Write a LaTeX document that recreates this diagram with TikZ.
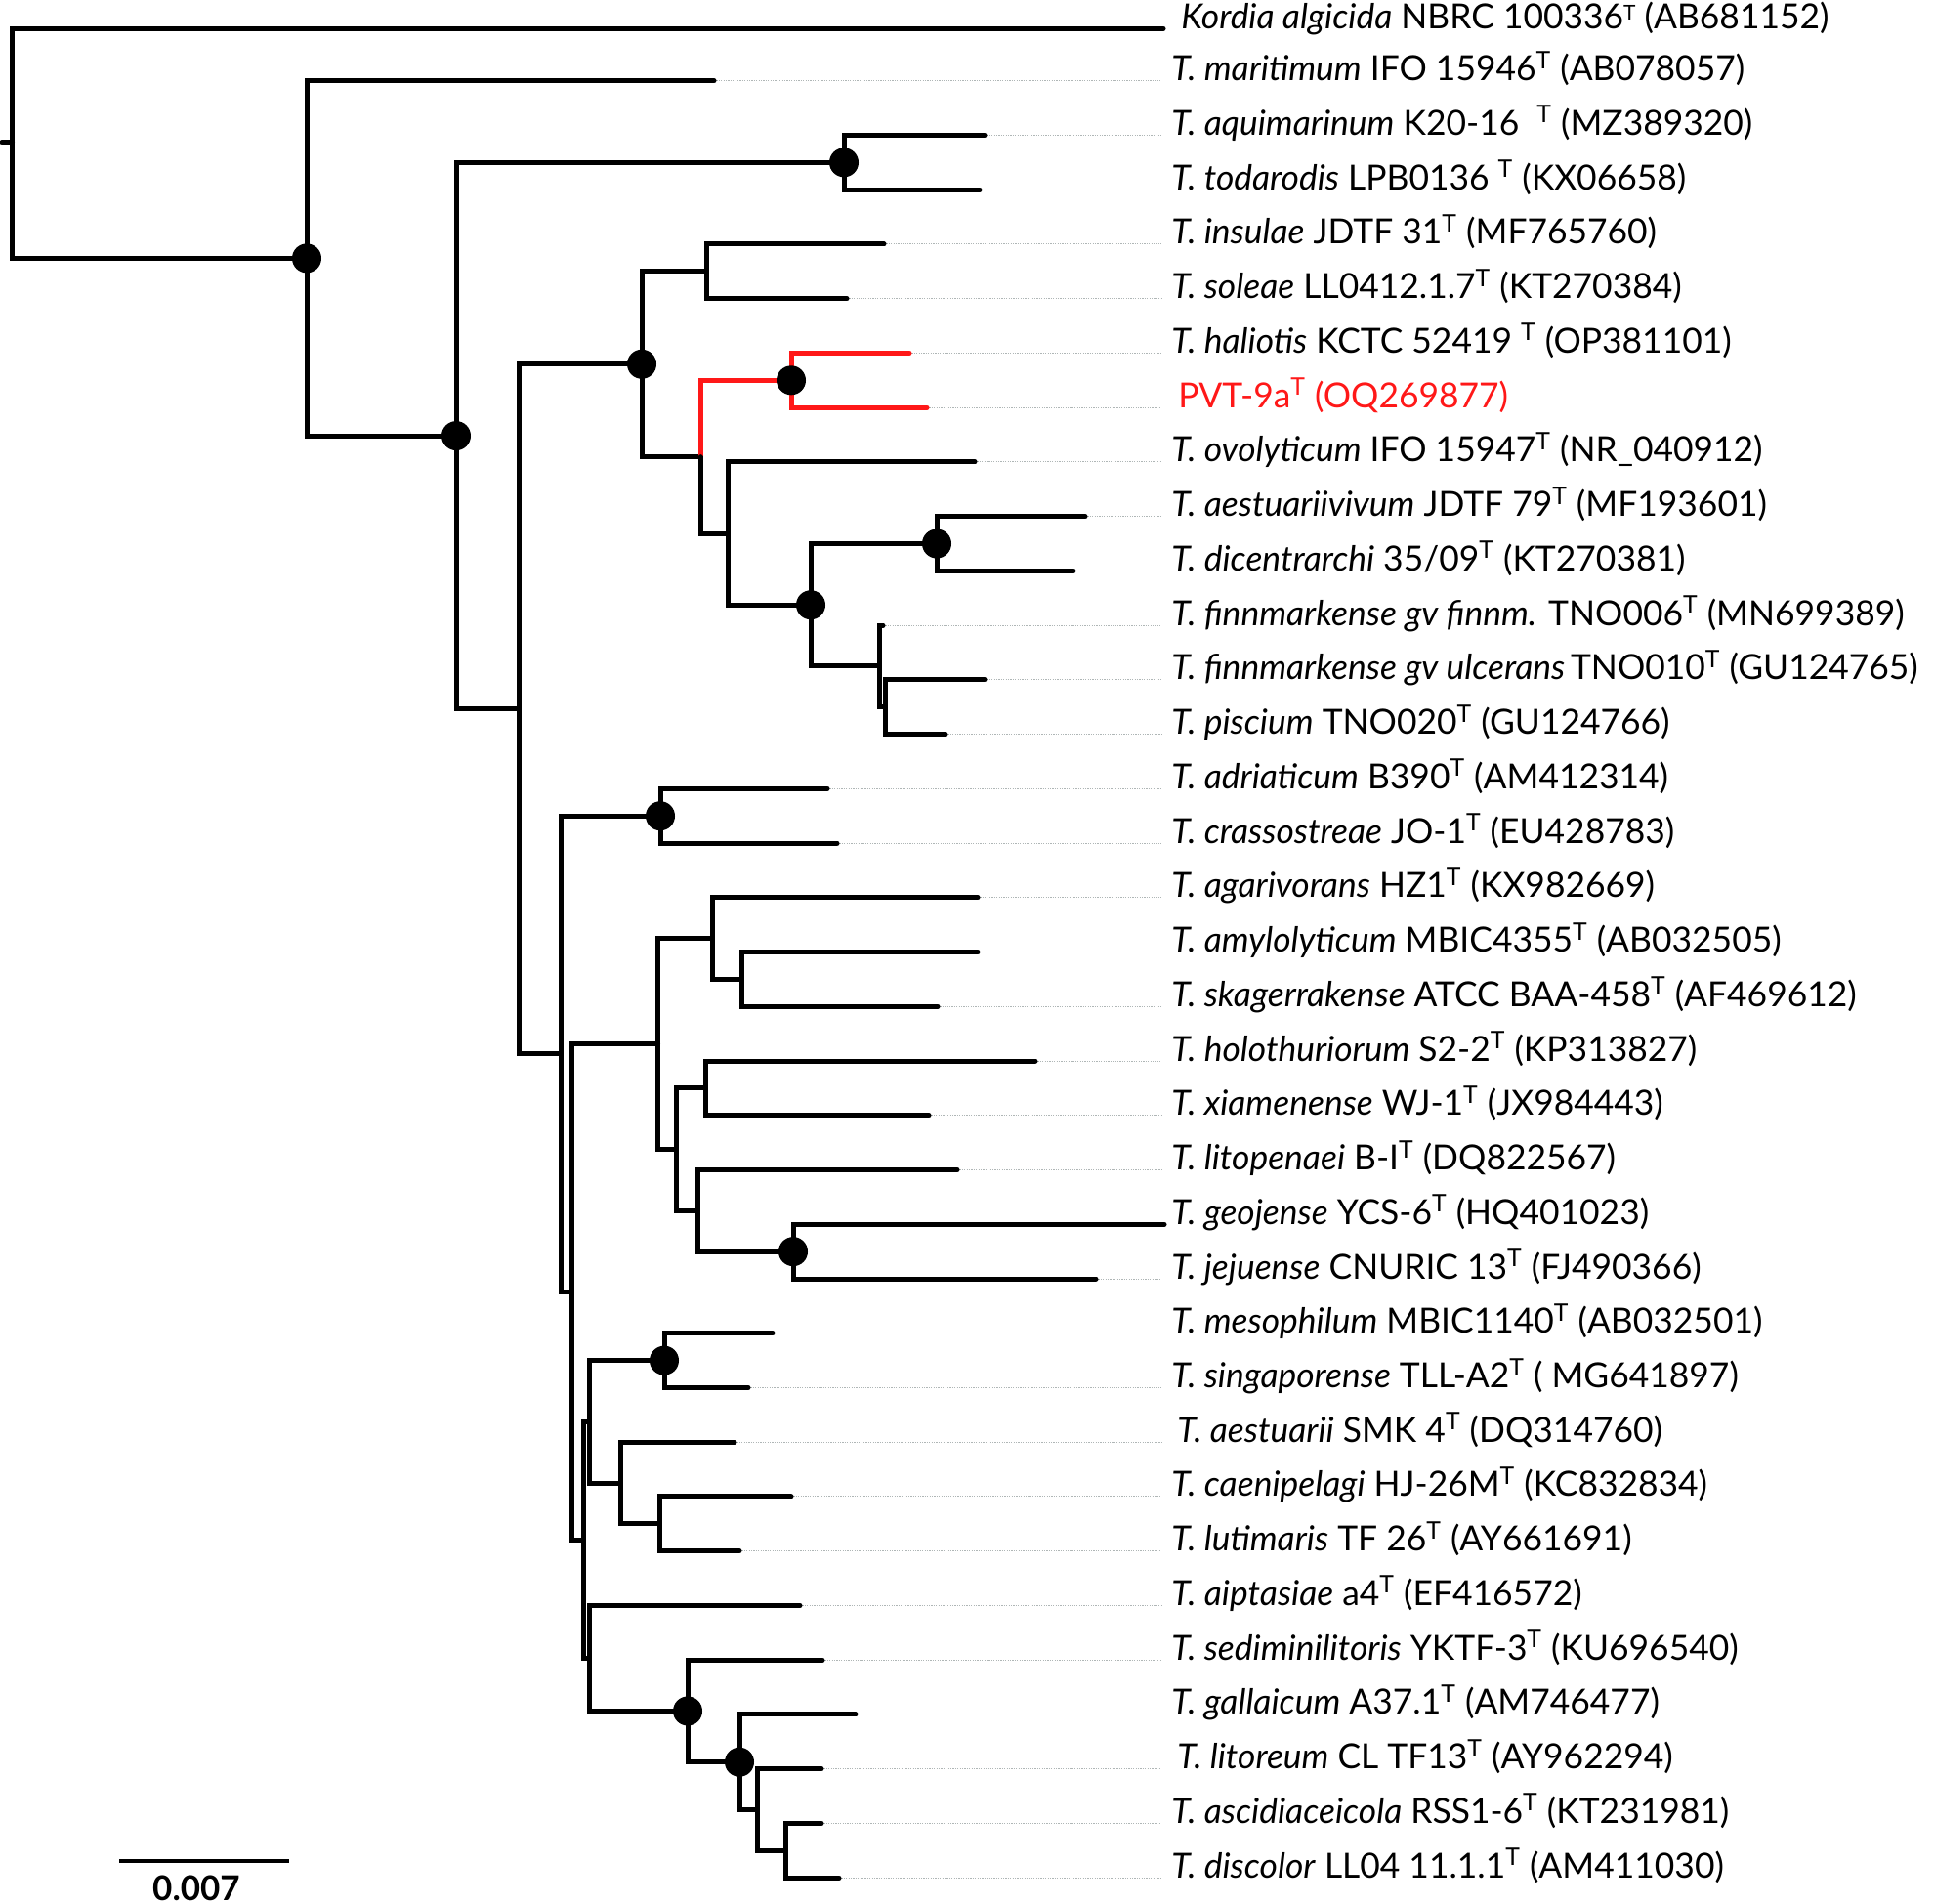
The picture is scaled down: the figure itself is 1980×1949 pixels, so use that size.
\documentclass[tikz,border=0pt]{standalone}
\usepackage{fontspec}
\setmainfont{Lato}
\usetikzlibrary{calc}
\definecolor{treered}{RGB}{255,24,24}
\definecolor{leadgray}{RGB}{175,182,182}
\newcommand\supT{\textsuperscript{T}}
\newcommand\lowsupT{\raisebox{0.25em}{\fontsize{10.5bp}{10.5bp}\selectfont T}}
\newcommand\labfont{\fontsize{17.7bp}{20bp}\selectfont}
\newcommand\leaf[4]{%
  \coordinate (#1) at (#2,{27+55.74*#3});
  \node[lab] (#1L) at (1189,{27+55.74*#3}) {#4};
  \draw[leader] (#1) -- (#1L.base west);}
\begin{document}
\begin{tikzpicture}[x=0.5bp,y=-0.5bp,
  br/.style={line width=2.5bp, line cap=round, line join=miter},
  redbr/.style={br, draw=treered},
  leader/.style={draw=leadgray, line width=0.5bp, dash pattern=on 0.6bp off 0.6bp},
  lab/.style={anchor=base west, inner xsep=5bp, inner ysep=0pt, font=\labfont},
  dot/.style={fill=black}]
\useasboundingbox (0,0) rectangle (1980,1949);
% leaves
\leaf{t0}{1191}{0.04}{\hspace{5bp}\textit{Kordia algicida} NBRC 100336\lowsupT{} (AB681152)}
\leaf{t1}{731}{1}{\textit{T. maritimum} IFO 15946\supT{} (AB078057)}
\leaf{t2}{1008}{2}{\textit{T. aquimarinum} K20-16~~\supT{} (MZ389320)}
\leaf{t3}{1003}{3}{\textit{T. todarodis} LPB0136 \supT{} (KX06658)}
\leaf{t4}{905}{4}{\textit{T. insulae} JDTF 31\supT{} (MF765760)}
\leaf{t5}{867}{5}{\textit{T. soleae} LL0412.1.7\supT{} (KT270384)}
\leaf{t6}{931}{6}{\textit{T. haliotis} KCTC 52419 \supT{} (OP381101)}
\leaf{t7}{949}{7}{\hspace{3.5bp}\color{treered}PVT-9a\supT{} (OQ269877)}
\leaf{t8}{998}{8}{\textit{T. ovolyticum} IFO 15947\supT{} (NR\_040912)}
\leaf{t9}{1111}{9}{\textit{T. aestuariivivum} JDTF 79\supT{} (MF193601)}
\leaf{t10}{1099}{10}{\textit{T. dicentrarchi} 35/09\supT{} (KT270381)}
\leaf{t11}{904}{11}{\textit{T. finnmarkense gv finnm.} TNO006\supT{} (MN699389)}
\leaf{t12}{1008}{12}{\textit{T. finnmarkense gv ulcerans}\,TNO010\supT{} (GU124765)}
\leaf{t13}{968}{13}{\textit{T. piscium} TNO020\supT{} (GU124766)}
\leaf{t14}{847}{14}{\textit{T. adriaticum} B390\supT{} (AM412314)}
\leaf{t15}{857}{15}{\textit{T. crassostreae} JO-1\supT{} (EU428783)}
\leaf{t16}{1001}{16}{\textit{T. agarivorans} HZ1\supT{} (KX982669)}
\leaf{t17}{1001}{17}{\textit{T. amylolyticum} MBIC4355\supT{} (AB032505)}
\leaf{t18}{960}{18}{\textit{T. skagerrakense} ATCC BAA-458\supT{} (AF469612)}
\leaf{t19}{1060}{19}{\textit{T. holothuriorum} S2-2\supT{} (KP313827)}
\leaf{t20}{951}{20}{\textit{T. xiamenense} WJ-1\supT{} (JX984443)}
\leaf{t21}{980}{21}{\textit{T. litopenaei} B-I\supT{} (DQ822567)}
\leaf{t22}{1192}{22}{\textit{T. geojense} YCS-6\supT{} (HQ401023)}
\leaf{t23}{1122}{23}{\textit{T. jejuense} CNURIC 13\supT{} (FJ490366)}
\leaf{t24}{791}{24}{\textit{T. mesophilum} MBIC1140\supT{} (AB032501)}
\leaf{t25}{766}{25}{\textit{T. singaporense} TLL-A2\supT{} (~MG641897)}
\leaf{t26}{752}{26}{\hspace{3bp}\textit{T. aestuarii} SMK 4\supT{} (DQ314760)}
\leaf{t27}{810}{27}{\textit{T. caenipelagi} HJ-26M\supT{} (KC832834)}
\leaf{t28}{757}{28}{\textit{T. lutimaris} TF 26\supT{} (AY661691)}
\leaf{t29}{819}{29}{\textit{T. aiptasiae} a4\supT{} (EF416572)}
\leaf{t30}{842}{30}{\textit{T. sediminilitoris} YKTF-3\supT{} (KU696540)}
\leaf{t31}{876}{31}{\textit{T. gallaicum} A37.1\supT{} (AM746477)}
\leaf{t32}{841}{32}{\hspace{3bp}\textit{T. litoreum} CL TF13\supT{} (AY962294)}
\leaf{t33}{841}{33}{\textit{T. ascidiaceicola} RSS1-6\supT{} (KT231981)}
\leaf{t34}{859}{34}{\textit{T. discolor} LL04 11.1.1\supT{} (AM411030)}
% internal nodes
\coordinate (stub) at (2,145.7);
\coordinate (root) at (12.6,145.7);
\coordinate (A) at (314,264.4);
\coordinate (B) at (467,446.1);
\coordinate (AQ) at (864,166.35);
\coordinate (C) at (531,725.8);
\coordinate (D) at (657,372.77);
\coordinate (IS) at (723,277.83);
\coordinate (E) at (717,467.70);
\coordinate (F) at (810,389.31);
\coordinate (G) at (745,546.08);
\coordinate (H) at (830,619.24);
\coordinate (I) at (959,556.53);
\coordinate (J) at (900,681.95);
\coordinate (K) at (906,723.75);
\coordinate (L) at (574,1078.9);
\coordinate (M) at (676,835.23);
\coordinate (N) at (585,1322.5);
\coordinate (O) at (673.5,1068.65);
\coordinate (Q) at (729,960.65);
\coordinate (R) at (759,1002.45);
\coordinate (S) at (692,1176.64);
\coordinate (T) at (722,1113.93);
\coordinate (U) at (714,1239.35);
\coordinate (V) at (812,1281.15);
\coordinate (P) at (597,1576.40);
\coordinate (Pa) at (603,1455.34);
\coordinate (W) at (680,1392.63);
\coordinate (X) at (635,1518.05);
\coordinate (Y) at (675,1559.85);
\coordinate (Pb) at (603,1697.46);
\coordinate (Z) at (704,1751.46);
\coordinate (AA) at (757,1803.71);
\coordinate (AB) at (775,1852.49);
\coordinate (AC) at (804,1894.29);
% branches
\draw[br] (stub) -- (root);
\draw[br] (t0) -| (root) |- (A);
\draw[br] (t1) -| (A) |- (B);
\draw[br] (AQ) -| (B) |- (C);
\draw[br] (t2) -| (AQ) |- (t3);
\draw[br] (D) -| (C) |- (L);
\draw[br] (IS) -| (D) |- (E);
\draw[br] (t4) -| (IS) |- (t5);
\draw[redbr] (F) -| (E);
\draw[br] (E) |- (G);
\draw[redbr] (t6) -| (F) |- (t7);
\draw[br] (t8) -| (G) |- (H);
\draw[br] (I) -| (H) |- (J);
\draw[br] (t9) -| (I) |- (t10);
\draw[br] (t11) -| (J) |- (K);
\draw[br] (t12) -| (K) |- (t13);
\draw[br] (M) -| (L) |- (N);
\draw[br] (t14) -| (M) |- (t15);
\draw[br] (O) -| (N) |- (P);
\draw[br] (Q) -| (O) |- (S);
\draw[br] (t16) -| (Q) |- (R);
\draw[br] (t17) -| (R) |- (t18);
\draw[br] (T) -| (S) |- (U);
\draw[br] (t19) -| (T) |- (t20);
\draw[br] (t21) -| (U) |- (V);
\draw[br] (t22) -| (V) |- (t23);
\draw[br] (Pa) -| (P) |- (Pb);
\draw[br] (W) -| (Pa) |- (X);
\draw[br] (t24) -| (W) |- (t25);
\draw[br] (t26) -| (X) |- (Y);
\draw[br] (t27) -| (Y) |- (t28);
\draw[br] (t29) -| (Pb) |- (Z);
\draw[br] (t30) -| (Z) |- (AA);
\draw[br] (t31) -| (AA) |- (AB);
\draw[br] (t32) -| (AB) |- (AC);
\draw[br] (t33) -| (AC) |- (t34);
% support dots
\foreach \n in {A,B,AQ,D,F,I,H,M,V,W,Z,AA}
  \fill[dot] (\n) circle[radius=7.5bp];
% scale bar
\coordinate (sb1) at (122,1905);
\coordinate (sb2) at (296,1905);
\draw[line width=2bp] (sb1) -- (sb2);
\node[anchor=base, inner sep=0pt, font=\fontsize{17.5bp}{20bp}\selectfont\bfseries] (sbl) at (201,1945) {0.007};
\end{tikzpicture}
\end{document}
